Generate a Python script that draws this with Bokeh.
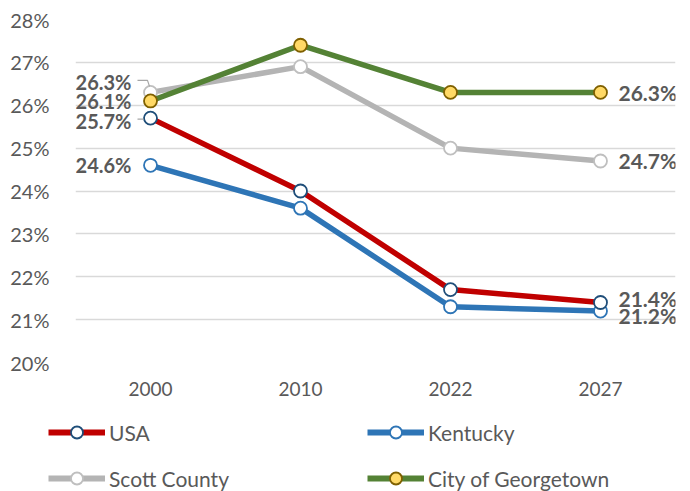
from bokeh.plotting import figure
from bokeh.layouts import column, row
from bokeh.models import Range1d, FactorRange, FixedTicker, Legend, LegendItem, ColumnDataSource
from bokeh.core.properties import value
from bokeh.embed import file_html
from bokeh.resources import INLINE

# ---- data ----
years = ["2000", "2010", "2022", "2027"]
usa = [25.7, 24.0, 21.7, 21.4]
kentucky = [24.6, 23.6, 21.3, 21.2]
scott_county = [26.3, 26.9, 25.0, 24.7]
georgetown = [26.1, 27.4, 26.3, 26.3]
series_names = ["USA", "Kentucky", "Scott County", "City of Georgetown"]
y_ticks = [20, 21, 22, 23, 24, 25, 26, 27, 28]
y_tick_labels = [f"{t}%" for t in y_ticks]

# ---- styles ----
styles = {
    "USA": dict(line="#C00000", fill="white", edge="#1F4E79"),
    "Kentucky": dict(line="#2E75B6", fill="white", edge="#2E75B6"),
    "Scott County": dict(line="#B4B4B4", fill="white", edge="#BFBFBF"),
    "City of Georgetown": dict(line="#548235", fill="#FFD966", edge="#7F6000"),
}
# label vertical nudges in screen px (first point, last point)
label_nudge = {
    "USA": (3, -4),
    "Kentucky": (0, 4),
    "Scott County": (-10, 0),
    "City of Georgetown": (0, 0),
}
FONT = "Lato"
TXT = "#595959"

values = {"USA": usa, "Kentucky": kentucky, "Scott County": scott_county,
          "City of Georgetown": georgetown}

p = figure(width=690, height=400, x_range=FactorRange(*years),
           y_range=Range1d(20, 28), output_backend="svg", toolbar_location=None,
           min_border_left=75, min_border_right=15, min_border_top=19,
           min_border_bottom=38)
p.outline_line_color = None
p.background_fill_color = "white"
p.border_fill_color = "white"

p.xgrid.visible = False
p.ygrid.grid_line_color = "#D9D9D9"
p.ygrid.grid_line_width = 1.5
p.yaxis.ticker = FixedTicker(ticks=y_ticks)
p.yaxis.major_label_overrides = {t: l for t, l in zip(y_ticks, y_tick_labels)}
for ax in (p.xaxis, p.yaxis):
    ax.axis_line_color = None
    ax.major_tick_line_color = None
    ax.minor_tick_line_color = None
    ax.major_label_text_font = FONT
    ax.major_label_text_color = TXT
    ax.major_label_text_font_size = "20px"
p.yaxis.major_label_standoff = 20
p.xaxis.major_label_standoff = 13
p.xaxis.major_label_text_font_size = "19px"

draw_order = ["Kentucky", "USA", "Scott County", "City of Georgetown"]
for name in draw_order:
    st = styles[name]
    vals = values[name]
    p.line(years, vals, line_color=st["line"], line_width=5.5)
    p.scatter(years, vals, size=13, fill_color=st["fill"],
              line_color=st["edge"], line_width=1.8)

# leader lines (screen-ish offsets converted to data units)
PX_X = 150.0
PX_Y = 42.9
c0 = 0.5
p.line([c0 - 13 / PX_X, c0 - 3 / PX_X, c0 - 1 / PX_X],
       [scott_county[0] + 12 / PX_Y, scott_county[0] + 12 / PX_Y, scott_county[0] + 6 / PX_Y],
       line_color="#A6A6A6", line_width=1.2)
p.line([c0 - 13 / PX_X, c0 - 7 / PX_X],
       [usa[0] - 1 / PX_Y, usa[0] - 1 / PX_Y],
       line_color="#A6A6A6", line_width=1.2)

# data labels
for name in series_names:
    vals = values[name]
    n0, n1 = label_nudge[name]
    p.text(x=[years[0]], y=[vals[0]], text=[f"{vals[0]:.1f}%"], x_offset=-19,
           y_offset=n0, text_align="right", text_baseline="middle",
           text_font=value(FONT), text_font_style="bold", text_font_size="20px",
           text_color=TXT)
    p.text(x=[years[-1]], y=[vals[-1]], text=[f"{vals[-1]:.1f}%"], x_offset=18,
           y_offset=n1, text_align="left", text_baseline="middle",
           text_font=value(FONT), text_font_style="bold", text_font_size="21px",
           text_color=TXT)

# ---- legend figure ----
lf = figure(width=690, height=91, output_backend="svg", toolbar_location=None,
            x_axis_location=None, y_axis_location=None,
            min_border=0, min_border_left=0, min_border_right=0,
            x_range=Range1d(0, 1), y_range=Range1d(0, 1))
lf.outline_line_color = None
lf.xgrid.visible = False
lf.ygrid.visible = False
lf.border_fill_color = "white"

items = []
off = ColumnDataSource(data=dict(x=[-10], y=[-10]))
for name in series_names:
    st = styles[name]
    lr = lf.line("x", "y", source=off, line_color=st["line"], line_width=6)
    sr = lf.scatter("x", "y", source=off, size=13, fill_color=st["fill"],
                    line_color=st["edge"], line_width=1.8)
    items.append(LegendItem(label=name, renderers=[lr, sr]))

legend = Legend(items=items, orientation="horizontal", ncols=2,
                location=(48, -2), glyph_width=57, glyph_height=30,
                label_height=30, label_width=242, spacing=16, padding=0,
                margin=0, border_line_color=None, background_fill_alpha=0,
                label_text_font=FONT, label_text_font_size="21px",
                label_text_color=TXT, label_standoff=4)
lf.add_layout(legend, "center")

layout = column(p, row(lf), spacing=0)
open("out.html", "w").write(file_html(layout, INLINE))
